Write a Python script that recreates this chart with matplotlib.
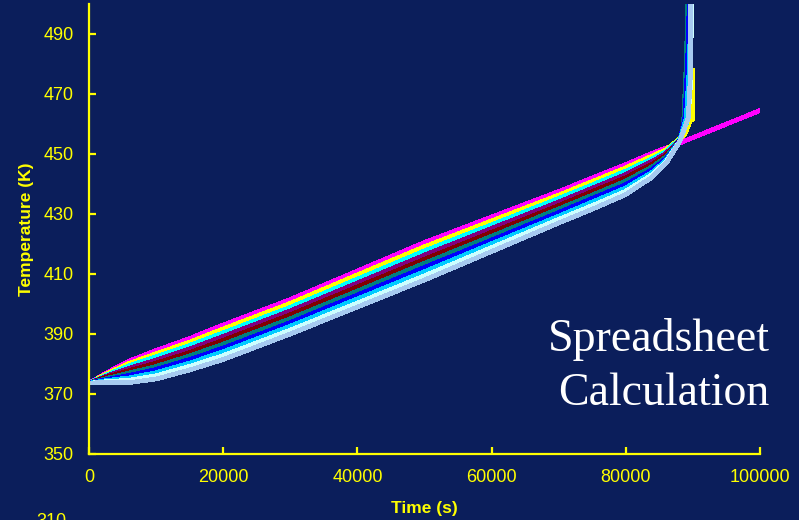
import matplotlib
matplotlib.use('Agg')
import matplotlib.pyplot as plt

# Time grid (s) shared by the curves that converge
time_s = [0, 3000, 6000, 10000, 15000, 20000, 30000, 40000, 50000,
          60000, 70000, 75000, 80000, 84000, 86000, 88000]

# Magenta curve runs on past the others
magenta_t = [0, 3000, 6000, 10000, 15000, 20000, 30000, 40000, 50000,
             60000, 70000, 75000, 80000, 84000, 86000, 88000, 88500, 100000]
magenta_T = [373.6, 377.5, 381.0, 384.5, 388.5, 393.0, 401.5, 411.0, 420.5,
             429.0, 437.5, 442.0, 446.5, 450.3, 452.0, 453.6, 454.1, 464.5]

yellow_T = [373.6, 377.1, 380.2, 383.4, 387.3, 391.7, 400.2, 409.7, 419.1,
            427.7, 436.3, 440.8, 445.4, 449.4, 451.4, 455.0]
cyan_T = [373.6, 376.7, 379.4, 382.4, 386.2, 390.4, 398.9, 408.3, 417.7,
          426.4, 435.2, 439.7, 444.3, 448.5, 450.8, 454.8]
purple_T = [373.6, 376.3, 378.6, 381.3, 385.0, 389.2, 397.7, 407.0, 416.3,
            425.2, 434.0, 438.6, 443.2, 447.6, 450.2, 454.5]
maroon_T = [373.6, 375.9, 377.8, 380.3, 383.8, 387.9, 396.4, 405.7, 414.9,
            423.9, 432.8, 437.5, 442.1, 446.7, 449.6, 454.4]
teal_T = [373.6, 375.4, 377.0, 379.2, 382.7, 386.6, 395.1, 404.3, 413.6,
          422.6, 431.7, 436.3, 441.0, 445.8, 449.0, 454.3]
blue_T = [373.6, 375.0, 376.2, 378.2, 381.5, 385.3, 393.8, 403.0, 412.2,
          421.3, 430.5, 435.2, 439.8, 444.9, 448.4, 454.2]
sky_T = [373.6, 374.6, 375.4, 377.1, 380.3, 384.1, 392.6, 401.7, 410.8,
         420.1, 429.3, 434.0, 438.7, 444.0, 447.9, 454.1]
turq_T = [373.6, 374.2, 374.6, 376.1, 379.2, 382.8, 391.3, 400.3, 409.4,
          418.8, 428.2, 432.8, 437.6, 443.2, 447.4, 454.0]
pale_T = [373.7, 373.8, 373.8, 375.0, 378.0, 381.5, 390.0, 399.0, 408.0,
          417.5, 427.0, 431.6, 436.5, 442.4, 446.9, 454.0]

# runaway tails (time, temperature) after 88000 s
yellow_tail = ([88800, 89600, 89950, 89950], [456.7, 461.0, 461.5, 478.0])
cyan_tail = ([89000, 89500, 89650], [460.0, 470.0, 505])
purple_tail = ([88900, 89400, 89600], [460.0, 470.0, 505])
maroon_tail = ([88800, 89300, 89550], [460.0, 470.0, 505])
teal_tail = ([88600, 89000, 89300], [460.0, 480.0, 505])
blue_tail = ([88800, 89200, 89500], [462.0, 480.0, 505])
sky_tail = ([89000, 89500, 89650], [462.0, 480.0, 505])
turq_tail = ([89300, 89700, 89800], [462.0, 475.0, 505])
pale_tail = ([89300, 89600, 89700], [462.0, 475.0, 505])

series = [
    (yellow_T, yellow_tail, '#FFFF00'),
    (cyan_T, cyan_tail, '#00FFFF'),
    (purple_T, purple_tail, '#800080'),
    (maroon_T, maroon_tail, '#800000'),
    (teal_T, teal_tail, '#008080'),
    (blue_T, blue_tail, '#0000FF'),
    (sky_T, sky_tail, '#00CCFF'),
    (turq_T, turq_tail, '#CCFFFF'),
    (pale_T, pale_tail, '#A6CAF0'),
]

x_ticks = [0, 20000, 40000, 60000, 80000, 100000]
y_ticks = [350, 370, 390, 410, 430, 450, 470, 490]

bg = '#0B1E5B'
fg = '#FFFF00'

fig = plt.figure(figsize=(7.99, 5.2), dpi=100, facecolor=bg)
ax = fig.add_axes([89 / 799, 1 - 454 / 520, 671 / 799, 450 / 520])
ax.set_facecolor(bg)

ax.plot(magenta_t, magenta_T, color='#FF00FF', lw=2.6, antialiased=False)
for temps, tail, col in series:
    ax.plot(time_s + tail[0], temps + tail[1], color=col, lw=2.6,
            antialiased=False)

ax.set_xlim(0, 100000)
ax.set_ylim(350, 500)
ax.set_xticks(x_ticks)
ax.set_yticks(y_ticks)
ax.set_xticklabels([str(v) for v in x_ticks])
ax.set_yticklabels([str(v) for v in y_ticks])

for side in ['top', 'right']:
    ax.spines[side].set_visible(False)
for side in ['left', 'bottom']:
    ax.spines[side].set_color(fg)
    ax.spines[side].set_linewidth(1.6)
ax.spines['left'].set_zorder(5)

ax.tick_params(axis='both', direction='in', length=5, width=1.6, color=fg,
               labelcolor=fg, labelsize=13)
ax.tick_params(axis='y', pad=11)
ax.tick_params(axis='x', pad=11)
for lab in ax.get_xticklabels() + ax.get_yticklabels():
    lab.set_family('Liberation Sans')

ax.set_xlabel('Time (s)', color=fg, fontsize=12.5, fontweight='bold',
              family='Liberation Sans')
ax.set_ylabel('Temperature (K)', color=fg, fontsize=12.5, fontweight='bold',
              family='Liberation Sans')
ax.xaxis.set_label_coords(0.5, (454 - 501) / 450)
ax.yaxis.set_label_coords((34 - 89) / 671, 0.5)

fig.text(770 / 799, 1 - 351 / 520, 'Spreadsheet', color='white',
         fontsize=33, family='Liberation Serif', ha='right', va='baseline')
fig.text(770 / 799, 1 - 405 / 520, 'Calculation', color='white',
         fontsize=33, family='Liberation Serif', ha='right', va='baseline')

# stray label from a chart below, cut off by the slide edge
fig.text(51 / 799, 1 - 513 / 520, '310', color=fg, fontsize=13,
         family='Liberation Sans', ha='center', va='top')

fig.savefig('out.png', dpi=100, facecolor=bg)
